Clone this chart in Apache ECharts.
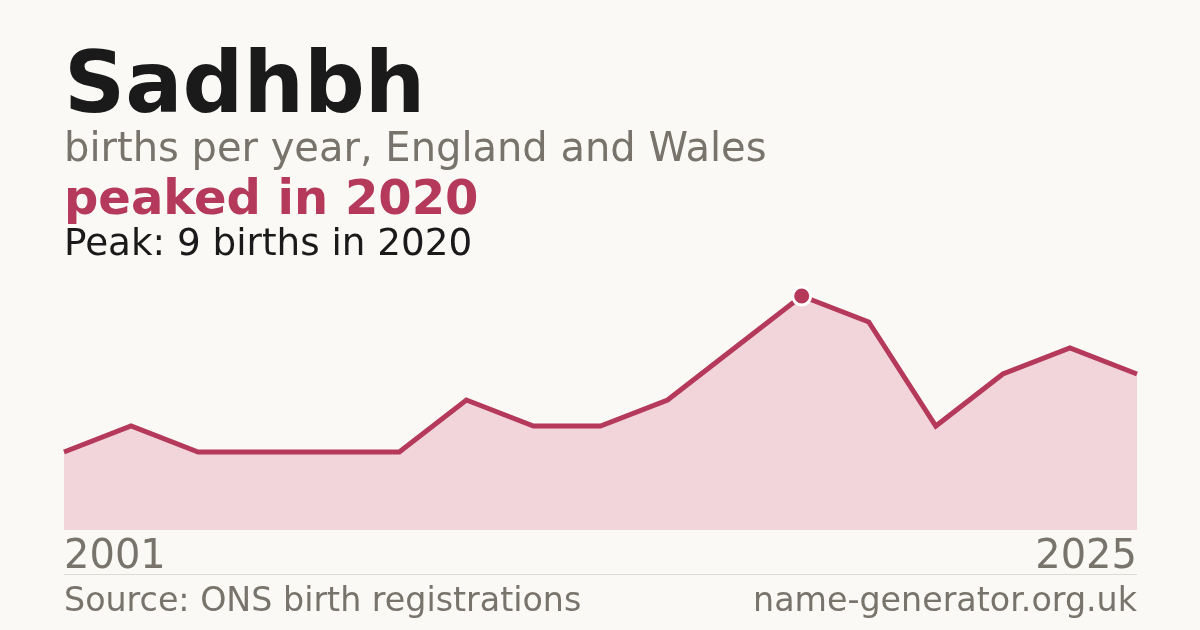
<!DOCTYPE html>
<html><head><meta charset="utf-8">
<script src="https://cdn.jsdelivr.net/npm/echarts@6/dist/echarts.min.js"></script>
<style>html,body{margin:0;padding:0;background:#faf9f5;}#c{width:1200px;height:630px;}</style>
</head><body><div id="c"></div>
<script>
const years = ['2001','2003','2005','2006','2007','2008','2010','2011','2013','2015','2018','2020','2021','2022','2023','2024','2025'];
const births = [3,4,3,3,3,3,5,4,4,5,7,9,8,4,6,7,6];
const titleText = 'Sadhbh';
const subtitleText = 'births per year, England and Wales';
const headlineText = 'peaked in 2020';
const peakText = 'Peak: 9 births in 2020';
const sourceText = 'Source: ONS birth registrations';
const siteText = 'name-generator.org.uk';

const RED = '#b5395a', GREY = '#78736b', INK = '#1a1a1a';
const FONT = 'DejaVu Sans';
const peakIdx = births.indexOf(Math.max(...births));
const seriesData = births.map((v,i)=> i===peakIdx ? {value:v, symbol:'circle', symbolSize:18,
  itemStyle:{color:RED, borderColor:'#ffffff', borderWidth:3}} : {value:v});

const chart = echarts.init(document.getElementById('c'), null, {renderer:'canvas'});
const last = years.length-1;
function txt(x,y,text,size,color,weight,align){
  return {type:'text', x:x, y:y, style:{text:text, fontFamily:FONT, fontSize:size, fontWeight:weight||'normal',
    fill:color, align:align||'left', verticalAlign:'middle'}};
}
chart.setOption({
  backgroundColor:'#faf9f5',
  animation:false,
  grid:{left:64, right:63, top:296, bottom:100},
  xAxis:{type:'category', data:years, boundaryGap:false,
    axisLine:{show:false}, axisTick:{show:false}, splitLine:{show:false},
    axisLabel:{interval:(i)=> i===0||i===last, fontFamily:FONT, fontSize:40, color:GREY, margin:8,
      alignMinLabel:'left', alignMaxLabel:'right', showMinLabel:true, showMaxLabel:true}},
  yAxis:{type:'value', min:0, max:9, show:false, splitLine:{show:false}},
  series:[{type:'line', data:seriesData, symbol:'none', showSymbol:true, z:3,
    lineStyle:{color:RED, width:5, join:'miter'},
    itemStyle:{color:RED},
    areaStyle:{color:'#f1d5db', opacity:1}}],
  graphic:[
    txt(64,90,titleText,85,INK,'bold'),
    txt(64,151,subtitleText,40,GREY),
    txt(64,202,headlineText,48,RED,'bold'),
    txt(64,245,peakText,37.3,INK),
    {type:'line', shape:{x1:64,y1:574.5,x2:1137,y2:574.5}, style:{stroke:'#dcdad4', lineWidth:1}},
    txt(64,602,sourceText,33.3,GREY),
    txt(1137,602,siteText,33.3,GREY,'normal','right')
  ]
});
</script></body></html>
